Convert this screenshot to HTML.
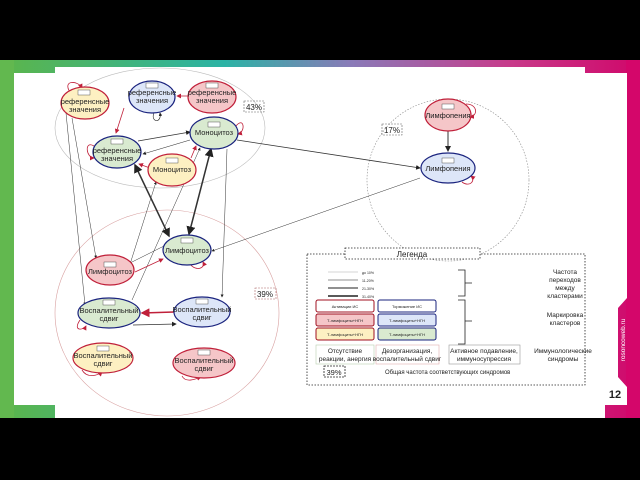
<!DOCTYPE html>
<html><head><meta charset="utf-8"><style>
html,body{margin:0;padding:0;background:#000;width:640px;height:480px;overflow:hidden}
svg{display:block}
text{font-family:"Liberation Sans",sans-serif;fill:#222}
</style></head><body>
<svg width="640" height="480" viewBox="0 0 640 480" xmlns="http://www.w3.org/2000/svg">
<defs>
<linearGradient id="tg" x1="0" x2="1"><stop offset="0" stop-color="#5cb54a"/><stop offset="0.35" stop-color="#2bb3a5"/><stop offset="0.55" stop-color="#8a7ab8"/><stop offset="0.8" stop-color="#c83a8a"/><stop offset="1" stop-color="#d0076a"/></linearGradient>
<marker id="ak" markerWidth="6" markerHeight="6" refX="5" refY="3" orient="auto"><path d="M0,0L6,3L0,6z" fill="#222"/></marker>
<marker id="ar" markerWidth="6" markerHeight="6" refX="5" refY="3" orient="auto"><path d="M0,0L6,3L0,6z" fill="#c0203a"/></marker>
<marker id="aks" markerWidth="6" markerHeight="6" refX="1" refY="3" orient="auto"><path d="M6,0L0,3L6,6z" fill="#222"/></marker>
</defs>
<rect x="0" y="60" width="640" height="360" fill="url(#tg)"/>
<rect x="0" y="60" width="14" height="360" fill="#62b84f"/>
<rect x="626" y="60" width="14" height="360" fill="#d4066a"/>
<path d="M55,67 L585,67 L585,73 L627,73 L627,298 L618,308 L618,377 L627,387 L627,405 L605,405 L605,418 L55,418 L55,405 L14,405 L14,73 L55,73Z" fill="#fff"/>
<rect x="0" y="418" width="640" height="62" fill="#000"/>
<text x="625" y="340" transform="rotate(-90 625 340)" font-size="6.5" style="fill:#fff" text-anchor="middle">rosoncoweb.ru</text>
<text x="615" y="398" font-size="11" font-weight="bold" text-anchor="middle">12</text>

<!-- clusters -->
<ellipse cx="160" cy="128" rx="105" ry="60" fill="none" stroke="#bbb" stroke-width="0.6"/>
<ellipse cx="167" cy="313" rx="112" ry="103" fill="none" stroke="#d8a0a0" stroke-width="0.6"/>
<circle cx="448" cy="180" r="81" fill="none" stroke="#888" stroke-width="0.6" stroke-dasharray="1.5 1.5"/>
<g font-size="8">
<rect x="244" y="101" width="20" height="11" fill="none" stroke="#666" stroke-width="0.6" stroke-dasharray="2 1"/><text x="254" y="110" text-anchor="middle">43%</text>
<rect x="382" y="124" width="20" height="11" fill="none" stroke="#666" stroke-width="0.6" stroke-dasharray="2 1"/><text x="392" y="133" text-anchor="middle">17%</text>
<rect x="255" y="288" width="21" height="11" fill="none" stroke="#a66" stroke-width="0.6" stroke-dasharray="2 1"/><text x="265" y="297" text-anchor="middle">39%</text>
</g>

<!-- edges -->
<g fill="none" stroke="#333" stroke-width="0.5">
<line x1="66" y1="113" x2="85" y2="305" marker-end="url(#ak)"/>
<line x1="72" y1="118" x2="96" y2="258" marker-end="url(#ak)"/>
<line x1="125" y1="280" x2="156" y2="182" marker-end="url(#ak)"/>
<line x1="132" y1="300" x2="200" y2="148" marker-end="url(#ak)"/>
<line x1="227" y1="149" x2="222" y2="297" marker-end="url(#ak)"/>
<line x1="124" y1="266" x2="164" y2="246" />
<line x1="420" y1="178" x2="212" y2="251" marker-end="url(#ak)"/>
<line x1="138" y1="141" x2="190" y2="132" stroke-width="0.8" marker-end="url(#ak)"/>
<line x1="190" y1="140" x2="143" y2="154" stroke-width="0.6" marker-end="url(#ak)"/>
<line x1="237" y1="140" x2="420" y2="168" stroke-width="0.8" marker-end="url(#ak)"/>
<line x1="448" y1="131" x2="448" y2="151" stroke-width="1" marker-end="url(#ak)"/>
<line x1="133" y1="325" x2="176" y2="324" stroke-width="0.8" marker-end="url(#ak)"/>
<line x1="135" y1="165" x2="169" y2="236" stroke-width="1.5" marker-end="url(#ak)" marker-start="url(#aks)"/>
<line x1="211" y1="149" x2="189" y2="234" stroke-width="1.5" marker-end="url(#ak)" marker-start="url(#aks)"/>
</g>
<g fill="none" stroke="#c0203a" stroke-width="0.8">
<line x1="188" y1="96" x2="177" y2="96" marker-end="url(#ar)"/>
<line x1="124" y1="108" x2="116" y2="133" marker-end="url(#ar)"/>
<line x1="150" y1="168" x2="139" y2="164" marker-end="url(#ar)"/>
<line x1="191" y1="158" x2="196" y2="146" marker-end="url(#ar)"/>
<line x1="135" y1="272" x2="163" y2="259" marker-end="url(#ar)"/>
<line x1="174" y1="312" x2="142" y2="313" stroke-width="1.5" marker-end="url(#ar)"/>
<path d="M70,92 C62,80 78,80 82,88" marker-end="url(#ar)"/>
<path d="M236,126 C244,116 246,132 238,134" marker-end="url(#ar)"/>
<path d="M94,146 C84,140 86,158 94,158" marker-end="url(#ar)"/>
<path d="M190,264 C196,272 206,268 203,262" marker-end="url(#ar)"/>
<path d="M80,320 C72,332 84,330 86,326" marker-end="url(#ar)"/>
<path d="M82,370 C88,380 100,374 102,372" marker-end="url(#ar)"/>
<path d="M182,376 C186,384 198,378 201,377" marker-end="url(#ar)"/>
<path d="M466,104 C478,104 478,116 470,117" marker-end="url(#ar)"/>
<path d="M462,182 C470,188 476,180 471,176" marker-end="url(#ar)"/>
</g>
<path d="M154,113 C150,122 162,124 160,113" fill="none" stroke="#222" stroke-width="0.6" marker-end="url(#ak)"/>

<!-- nodes -->
<g font-size="7.5" text-anchor="middle" stroke-width="1.2">
<g><ellipse cx="85" cy="103" rx="24" ry="16" fill="#fdf0c2" stroke="#c0203a"/><rect x="78" y="90" width="12" height="5" fill="#fff" stroke="#333" stroke-width="0.4"/><text x="85" y="104">референсные</text><text x="85" y="112">значения</text></g>
<g><ellipse cx="152" cy="97" rx="23" ry="16" fill="#dde6f8" stroke="#1a237e"/><rect x="146" y="83" width="12" height="5" fill="#fff" stroke="#333" stroke-width="0.4"/><text x="152" y="95">референсные</text><text x="152" y="103">значения</text></g>
<g><ellipse cx="212" cy="97" rx="24" ry="16" fill="#f5c6c8" stroke="#c0203a"/><rect x="206" y="83" width="12" height="5" fill="#fff" stroke="#333" stroke-width="0.4"/><text x="212" y="95">референсные</text><text x="212" y="103">значения</text></g>
<g><ellipse cx="214" cy="133" rx="24" ry="16" fill="#d9ead0" stroke="#1a237e"/><rect x="208" y="122" width="12" height="5" fill="#fff" stroke="#333" stroke-width="0.4"/><text x="214" y="135">Моноцитоз</text></g>
<g><ellipse cx="117" cy="152" rx="24" ry="16" fill="#d9ead0" stroke="#1a237e"/><rect x="111" y="139" width="12" height="5" fill="#fff" stroke="#333" stroke-width="0.4"/><text x="117" y="153">референсные</text><text x="117" y="161">значения</text></g>
<g><ellipse cx="172" cy="170" rx="24" ry="16" fill="#fdf0c2" stroke="#c0203a"/><rect x="166" y="158" width="12" height="5" fill="#fff" stroke="#333" stroke-width="0.4"/><text x="172" y="172">Моноцитоз</text></g>
<g><ellipse cx="187" cy="250" rx="24" ry="15" fill="#d9ead0" stroke="#1a237e"/><rect x="181" y="238" width="12" height="5" fill="#fff" stroke="#333" stroke-width="0.4"/><text x="187" y="253">Лимфоцитоз</text></g>
<g><ellipse cx="110" cy="270" rx="24" ry="15" fill="#f5c6c8" stroke="#c0203a"/><rect x="104" y="262" width="12" height="5" fill="#fff" stroke="#333" stroke-width="0.4"/><text x="110" y="274">Лимфоцитоз</text></g>
<g><ellipse cx="109" cy="313" rx="31" ry="15" fill="#d9ead0" stroke="#1a237e"/><rect x="103" y="300" width="12" height="5" fill="#fff" stroke="#333" stroke-width="0.4"/><text x="109" y="313">Воспалительный</text><text x="109" y="321">сдвиг</text></g>
<g><ellipse cx="202" cy="312" rx="28" ry="15" fill="#dde6f8" stroke="#1a237e"/><rect x="196" y="299" width="12" height="5" fill="#fff" stroke="#333" stroke-width="0.4"/><text x="202" y="312">Воспалительный</text><text x="202" y="320">сдвиг</text></g>
<g><ellipse cx="103" cy="358" rx="30" ry="15" fill="#fdf0c2" stroke="#c0203a"/><rect x="97" y="346" width="12" height="5" fill="#fff" stroke="#333" stroke-width="0.4"/><text x="103" y="358">Воспалительный</text><text x="103" y="366">сдвиг</text></g>
<g><ellipse cx="204" cy="363" rx="31" ry="15" fill="#f5c6c8" stroke="#c0203a"/><rect x="198" y="350" width="12" height="5" fill="#fff" stroke="#333" stroke-width="0.4"/><text x="204" y="363">Воспалительный</text><text x="204" y="371">сдвиг</text></g>
<g><ellipse cx="448" cy="115" rx="23" ry="16" fill="#f5c6c8" stroke="#c0203a"/><rect x="442" y="104" width="12" height="5" fill="#fff" stroke="#333" stroke-width="0.4"/><text x="448" y="118">Лимфопения</text></g>
<g><ellipse cx="448" cy="168" rx="27" ry="15" fill="#dde6f8" stroke="#1a237e"/><rect x="442" y="158" width="12" height="5" fill="#fff" stroke="#333" stroke-width="0.4"/><text x="448" y="171">Лимфопения</text></g>
</g>

<!-- legend -->
<rect x="307" y="254" width="278" height="131" fill="none" stroke="#222" stroke-width="0.8" stroke-dasharray="1.5 1.5"/>
<rect x="345" y="248" width="135" height="11" fill="#fff" stroke="#222" stroke-width="0.8" stroke-dasharray="1.5 1.5"/>
<text x="412" y="257" font-size="8" text-anchor="middle">Легенда</text>
<g stroke="#222">
<line x1="328" y1="272" x2="358" y2="272" stroke="#aaa" stroke-width="0.6"/>
<line x1="328" y1="280" x2="358" y2="280" stroke-width="0.6"/>
<line x1="328" y1="288" x2="358" y2="288" stroke-width="1"/>
<line x1="328" y1="296" x2="358" y2="296" stroke-width="1.6"/>
<path d="M458,270 H465 V296 H458 M465,283 H472" fill="none" stroke-width="0.8"/>
<path d="M458,300 H465 V344 H458 M465,321 H472" fill="none" stroke-width="0.8"/>
</g>
<g font-size="3.5"><text x="362" y="274">до 10%</text><text x="362" y="282">11-20%</text><text x="362" y="290">21-30%</text><text x="362" y="298">31-40%</text></g>
<g font-size="6.5" text-anchor="middle">
<text x="565" y="274">Частота</text><text x="565" y="282">переходов</text><text x="565" y="290">между</text><text x="565" y="298">кластерами</text>
<text x="565" y="317">Маркировка</text><text x="565" y="325">кластеров</text>
<text x="563" y="353">Иммунологические</text><text x="563" y="361">синдромы</text>
</g>
<g font-size="4">
<rect x="316" y="300" width="58" height="12" rx="2" fill="#fff" stroke="#a01020"/><text x="345" y="308" text-anchor="middle">Активации ИС</text>
<rect x="316" y="314" width="58" height="12" rx="2" fill="#f5c6c8" stroke="#a01020"/><text x="345" y="322" text-anchor="middle">Т-лимфоциты+НГН</text>
<rect x="316" y="328" width="58" height="12" rx="2" fill="#fdf0c2" stroke="#a01020"/><text x="345" y="336" text-anchor="middle">Т-лимфоциты+НГН</text>
<rect x="378" y="300" width="58" height="12" rx="2" fill="#fff" stroke="#1a237e"/><text x="407" y="308" text-anchor="middle">Торможение ИС</text>
<rect x="378" y="314" width="58" height="12" rx="2" fill="#dde6f8" stroke="#1a237e"/><text x="407" y="322" text-anchor="middle">Т-лимфоциты+НГН</text>
<rect x="378" y="328" width="58" height="12" rx="2" fill="#d9ead0" stroke="#1a237e"/><text x="407" y="336" text-anchor="middle">Т-лимфоциты+НГН</text>
</g>
<g font-size="6.5" text-anchor="middle">
<rect x="316" y="345" width="58" height="19" fill="#fff" stroke="#b8d0b0" stroke-width="0.6"/><text x="345" y="353">Отсутствие</text><text x="345" y="361">реакции, анергия</text>
<rect x="376" y="345" width="63" height="19" fill="#fff" stroke="#e0b0b0" stroke-width="0.6"/><text x="407" y="353">Дезорганизация,</text><text x="407" y="361">воспалительный сдвиг</text>
<rect x="449" y="345" width="71" height="19" fill="#fff" stroke="#999" stroke-width="0.6"/><text x="484" y="353">Активное подавление,</text><text x="484" y="361">иммуносупрессия</text>
</g>
<rect x="324" y="366" width="21" height="11" fill="none" stroke="#222" stroke-width="0.8" stroke-dasharray="2 1"/>
<text x="334" y="375" font-size="7.5" text-anchor="middle">39%</text>
<text x="385" y="374" font-size="6">Общая частота соответствующих синдромов</text>
</svg>
</body></html>
